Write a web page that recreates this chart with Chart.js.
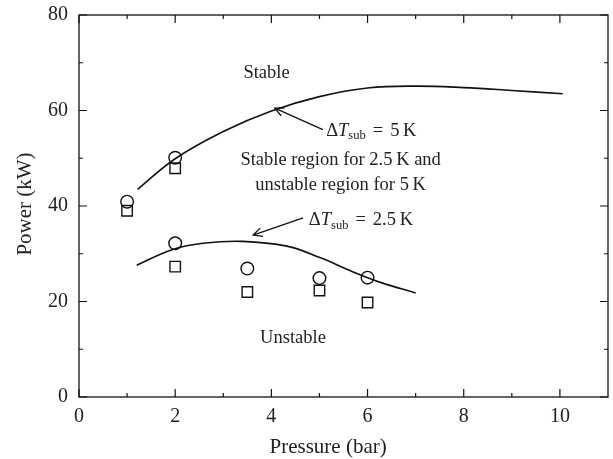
<!DOCTYPE html>
<html><head><meta charset="utf-8">
<script src="https://cdn.jsdelivr.net/npm/chart.js@4"></script>
<style>html,body{margin:0;padding:0;background:#fff}</style>
</head><body>
<canvas id="c" width="613" height="459" style="width:613px;height:459px;display:block"></canvas>
<script>
// ---- data ----
const xTicks = [0, 2, 4, 6, 8, 10];
const yTicks = [0, 20, 40, 60, 80];
const xMinorTicks = [1, 3, 5, 7, 9];
const yMinorTicks = [10, 30, 50, 70];

// boundary curve, ΔTsub = 5 K
const curve5KX = [1.22, 2.0, 3.0, 4.0, 5.0, 6.0, 7.0, 8.0, 9.0, 10.06];
const curve5KY = [43.5, 49.9, 55.6, 59.9, 62.9, 64.7, 65.1, 64.8, 64.2, 63.5];
// boundary curve, ΔTsub = 2.5 K
const curve25KX = [1.20, 1.95, 2.58, 3.40, 4.32, 5.01, 5.70, 6.30, 7.0];
const curve25KY = [27.6, 30.9, 32.2, 32.6, 31.6, 29.2, 26.2, 23.9, 21.8];

// experimental points
const circleX = [1, 2, 2, 3.5, 5, 6];
const circleY = [40.9, 50.1, 32.2, 26.9, 24.9, 25.0];
const squareX = [1, 2, 2, 3.5, 5, 6];
const squareY = [39.0, 47.9, 27.3, 22.0, 22.3, 19.8];

// annotations (data coordinates)
const plainLabels = [
  {text: 'Stable', x: 3.90, y: 67.9},
  {text: 'Stable region for 2.5\u2009K and', x: 5.44, y: 49.6},
  {text: 'unstable region for 5\u2009K', x: 5.44, y: 44.3},
  {text: 'Unstable', x: 4.45, y: 12.4}
];
const deltaLabels = [
  {value: '5\u2009K', x: 5.14, y: 55.7},
  {value: '2.5\u2009K', x: 4.78, y: 37.0}
];
const arrows = [
  {fromX: 5.07, fromY: 56.0, toX: 4.07, toY: 60.5},
  {fromX: 4.66, fromY: 37.5, toX: 3.62, toY: 33.9}
];
const xTitle = 'Pressure (bar)';
const yTitle = 'Power (kW)';

const FONT = '"Liberation Serif", "DejaVu Serif", serif';
const TXT = '#222';

const toPts = (xs, ys) => xs.map((x, i) => ({x: x, y: ys[i]}));

const framePlugin = {
  id: 'frame',
  afterDatasetsDraw(chart) {
    const ctx = chart.ctx, a = chart.chartArea;
    const xs = chart.scales.x, ys = chart.scales.y;
    ctx.save();
    ctx.strokeStyle = '#111';
    ctx.lineWidth = 1.3;
    ctx.strokeRect(a.left, a.top, a.right - a.left, a.bottom - a.top);
    ctx.lineWidth = 1.2;
    ctx.beginPath();
    const tickX = (v, len) => {
      const p = xs.getPixelForValue(v);
      ctx.moveTo(p, a.bottom); ctx.lineTo(p, a.bottom - len);
      ctx.moveTo(p, a.top); ctx.lineTo(p, a.top + len);
    };
    const tickY = (v, len) => {
      const p = ys.getPixelForValue(v);
      ctx.moveTo(a.left, p); ctx.lineTo(a.left + len, p);
      ctx.moveTo(a.right, p); ctx.lineTo(a.right - len, p);
    };
    xTicks.forEach(v => tickX(v, 8));
    xMinorTicks.forEach(v => tickX(v, 4));
    yTicks.forEach(v => tickY(v, 8));
    yMinorTicks.forEach(v => tickY(v, 4));
    ctx.stroke();

    // arrows
    ctx.lineWidth = 1.3;
    arrows.forEach(ar => {
      const x1 = xs.getPixelForValue(ar.fromX), y1 = ys.getPixelForValue(ar.fromY);
      const x2 = xs.getPixelForValue(ar.toX), y2 = ys.getPixelForValue(ar.toY);
      const ang = Math.atan2(y2 - y1, x2 - x1);
      const h = 10, sp = 0.45;
      ctx.beginPath();
      ctx.moveTo(x1, y1); ctx.lineTo(x2, y2);
      ctx.moveTo(x2 - h * Math.cos(ang - sp), y2 - h * Math.sin(ang - sp));
      ctx.lineTo(x2, y2);
      ctx.lineTo(x2 - h * Math.cos(ang + sp), y2 - h * Math.sin(ang + sp));
      ctx.stroke();
    });

    // plain text labels
    ctx.fillStyle = TXT;
    ctx.textBaseline = 'middle';
    ctx.textAlign = 'center';
    ctx.font = '18.5px ' + FONT;
    plainLabels.forEach(l => {
      ctx.fillText(l.text, xs.getPixelForValue(l.x), ys.getPixelForValue(l.y));
    });

    // ΔT_sub = value labels
    ctx.textAlign = 'left';
    deltaLabels.forEach(l => {
      let px = xs.getPixelForValue(l.x);
      const py = ys.getPixelForValue(l.y);
      ctx.font = '18.5px ' + FONT;
      ctx.fillText('\u0394', px, py); px += ctx.measureText('\u0394').width;
      ctx.font = 'italic 18.5px ' + FONT;
      ctx.fillText('T', px, py); px += ctx.measureText('T').width;
      ctx.font = '12.5px ' + FONT;
      ctx.fillText('sub', px, py + 5); px += ctx.measureText('sub').width + 7;
      ctx.font = '18.5px ' + FONT;
      ctx.fillText('=', px, py); px += ctx.measureText('=').width + 7;
      ctx.fillText(l.value, px, py);
    });

    // axis titles
    ctx.font = '21px ' + FONT;
    ctx.textAlign = 'center';
    ctx.fillText(xTitle, xs.getPixelForValue(5.18), 447);
    ctx.save();
    ctx.translate(25, (a.top + a.bottom) / 2 - 2);
    ctx.rotate(-Math.PI / 2);
    ctx.fillText(yTitle, 0, 0);
    ctx.restore();
    ctx.restore();
  }
};

new Chart(document.getElementById('c'), {
  type: 'scatter',
  data: {
    datasets: [
      {label: 'ΔTsub = 5 K', data: toPts(curve5KX, curve5KY), showLine: true, pointRadius: 0,
       borderColor: '#111', borderWidth: 1.6, tension: 0.4, fill: false},
      {label: 'ΔTsub = 2.5 K', data: toPts(curve25KX, curve25KY), showLine: true, pointRadius: 0,
       borderColor: '#111', borderWidth: 1.6, tension: 0.4, fill: false},
      {label: 'circles', data: toPts(circleX, circleY), pointStyle: 'circle', pointRadius: 6.3,
       pointBorderColor: '#111', pointBackgroundColor: 'rgba(255,255,255,0)', pointBorderWidth: 1.4},
      {label: 'squares', data: toPts(squareX, squareY), pointStyle: 'rect', pointRadius: 7.4,
       pointBorderColor: '#111', pointBackgroundColor: 'rgba(255,255,255,0)', pointBorderWidth: 1.4}
    ]
  },
  options: {
    responsive: false,
    animation: false,
    devicePixelRatio: 1,
    layout: {autoPadding: false, padding: {top: 15, right: 5, left: 0, bottom: 0}},
    plugins: {legend: {display: false}, tooltip: {enabled: false}},
    scales: {
      x: {
        type: 'linear', min: 0, max: 11,
        afterBuildTicks: s => { s.ticks = xTicks.map(v => ({value: v})); },
        afterFit: s => { s.height = 62; s.paddingLeft = 0; s.paddingRight = 0; },
        grid: {display: false, drawTicks: false}, border: {display: false},
        ticks: {color: TXT, font: {family: FONT, size: 20}, padding: 8, maxRotation: 0},
        title: {display: false}
      },
      y: {
        type: 'linear', min: 0, max: 80,
        afterBuildTicks: s => { s.ticks = yTicks.map(v => ({value: v})); },
        afterFit: s => { s.width = 79; s.paddingTop = 0; s.paddingBottom = 0; },
        grid: {display: false, drawTicks: false}, border: {display: false},
        ticks: {color: TXT, font: {family: FONT, size: 20}, padding: 11},
        title: {display: false}
      }
    }
  },
  plugins: [framePlugin]
});
</script>
</body></html>
